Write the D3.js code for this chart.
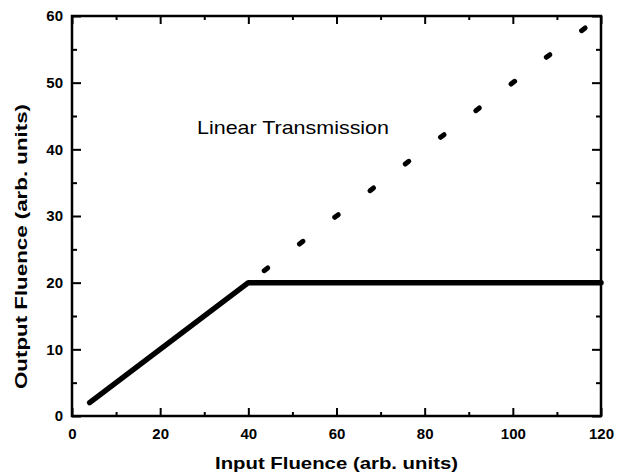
<!DOCTYPE html>
<html>
<head>
<meta charset="utf-8">
<script src="https://cdn.jsdelivr.net/npm/d3@7"></script>
<style>
body { margin: 0; background: #fff; }
text { font-family: Arial, "Liberation Sans", sans-serif; }
</style>
</head>
<body>
<script>
//chart size
var w = 628;
var h = 475;
var margin = { top: 16, right: 27, bottom: 59, left: 72 };

//limiter output (solid line)
var limitX = [4, 40, 120];
var limitY = [2, 20, 20];

//linear transmission (dashes)
var linearX = [44, 52, 60, 68, 76, 84, 92, 100, 108, 116];
var linearY = [22, 26, 30, 34, 38, 42, 46, 50, 54, 58];

//tick values
var xTicks = [0, 20, 40, 60, 80, 100, 120];
var yTicks = [0, 10, 20, 30, 40, 50, 60];
var xMinor = [10, 30, 50, 70, 90, 110];
var yMinor = [5, 15, 25, 35, 45, 55];

var svg = d3.select("body")
            .append("svg")
            .attr("width", w)
            .attr("height", h);

var xScale = d3.scaleLinear().domain([0, 120]).range([margin.left, w - margin.right]);
var yScale = d3.scaleLinear().domain([0, 60]).range([h - margin.bottom, margin.top]);

var x0 = xScale(0), x1 = xScale(120), y0 = yScale(0), y1 = yScale(60);

//axes, ticks inward on all four sides
function styleAxis(g) {
    g.select(".domain").remove();
    g.selectAll("line").attr("stroke", "#000").attr("stroke-width", 2);
    g.selectAll("text").attr("font-size", 15).attr("font-weight", "bold").attr("fill", "#000");
}

svg.append("g").attr("transform", "translate(0," + y0 + ")")
    .call(d3.axisBottom(xScale).tickValues(xTicks).tickSize(-8).tickPadding(12).tickFormat(d3.format("d")))
    .call(styleAxis);
svg.append("g").attr("transform", "translate(0," + y0 + ")")
    .call(d3.axisBottom(xScale).tickValues(xMinor).tickSize(-4).tickFormat(""))
    .call(styleAxis);
svg.append("g").attr("transform", "translate(0," + y1 + ")")
    .call(d3.axisTop(xScale).tickValues(xTicks).tickSize(-8).tickFormat(""))
    .call(styleAxis);
svg.append("g").attr("transform", "translate(0," + y1 + ")")
    .call(d3.axisTop(xScale).tickValues(xMinor).tickSize(-4).tickFormat(""))
    .call(styleAxis);

svg.append("g").attr("transform", "translate(" + x0 + ",0)")
    .call(d3.axisLeft(yScale).tickValues(yTicks).tickSize(-9).tickPadding(9).tickFormat(d3.format("d")))
    .call(styleAxis);
svg.append("g").attr("transform", "translate(" + x0 + ",0)")
    .call(d3.axisLeft(yScale).tickValues(yMinor).tickSize(-5).tickFormat(""))
    .call(styleAxis);
svg.append("g").attr("transform", "translate(" + x1 + ",0)")
    .call(d3.axisRight(yScale).tickValues(yTicks).tickSize(-9).tickFormat(""))
    .call(styleAxis);
svg.append("g").attr("transform", "translate(" + x1 + ",0)")
    .call(d3.axisRight(yScale).tickValues(yMinor).tickSize(-5).tickFormat(""))
    .call(styleAxis);

//frame
svg.append("rect")
    .attr("x", x0).attr("y", y1)
    .attr("width", x1 - x0).attr("height", y0 - y1)
    .attr("fill", "none").attr("stroke", "#000").attr("stroke-width", 2.5);

//solid limiter line
var line = d3.line()
    .x(function(d) { return xScale(d[0]); })
    .y(function(d) { return yScale(d[1]); });

svg.append("path")
    .datum(d3.zip(limitX, limitY))
    .attr("d", line)
    .attr("fill", "none")
    .attr("stroke", "#000")
    .attr("stroke-width", 5.5)
    .attr("stroke-linejoin", "round")
    .attr("stroke-linecap", "round");

//linear transmission dashes, short strokes along slope 1/2
svg.selectAll(".dash")
    .data(d3.zip(linearX, linearY))
    .enter()
    .append("line")
    .attr("class", "dash")
    .attr("x1", function(d) { return xScale(d[0] - 0.4); })
    .attr("y1", function(d) { return yScale(d[1] - 0.2); })
    .attr("x2", function(d) { return xScale(d[0] + 0.4); })
    .attr("y2", function(d) { return yScale(d[1] + 0.2); })
    .attr("stroke", "#000")
    .attr("stroke-width", 5)
    .attr("stroke-linecap", "round");

//labels (scanned fonts are a bit wide, so stretch to length)
svg.append("text")
    .attr("x", 197).attr("y", 134)
    .attr("font-size", 19)
    .attr("textLength", 192).attr("lengthAdjust", "spacingAndGlyphs")
    .text("Linear Transmission");

svg.append("text")
    .attr("x", 215).attr("y", 469)
    .attr("font-size", 17).attr("font-weight", "bold")
    .attr("textLength", 243).attr("lengthAdjust", "spacingAndGlyphs")
    .text("Input Fluence (arb. units)");

svg.append("text")
    .attr("transform", "translate(27,389) rotate(-90)")
    .attr("font-size", 17).attr("font-weight", "bold")
    .attr("textLength", 285).attr("lengthAdjust", "spacingAndGlyphs")
    .text("Output Fluence (arb. units)");
</script>
</body>
</html>
